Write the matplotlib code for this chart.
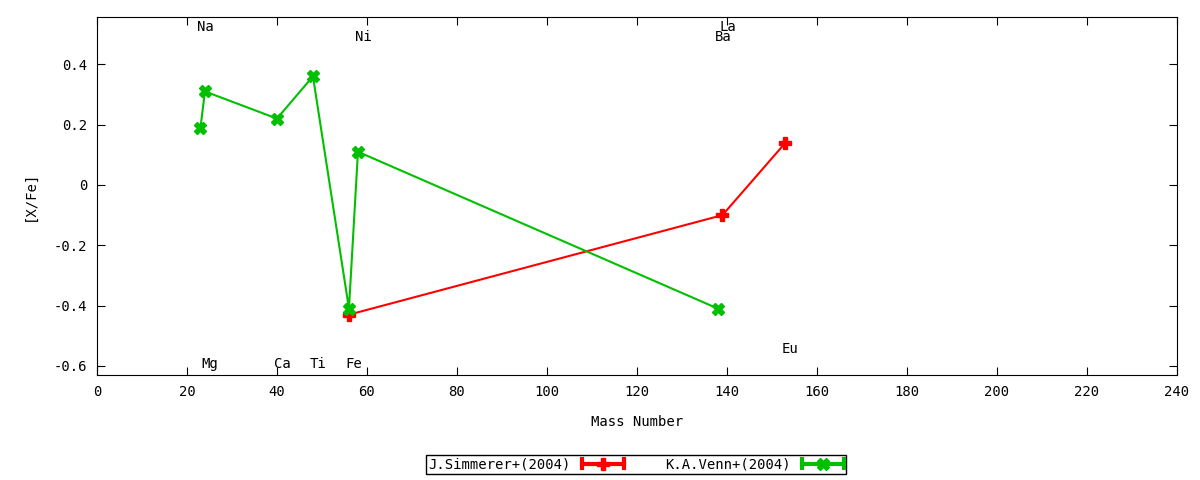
import numpy as np
import matplotlib
matplotlib.use("Agg")
import matplotlib.pyplot as plt
from matplotlib.lines import Line2D
from matplotlib.legend_handler import HandlerBase

# data
simmerer_mass = [56, 139, 153]
simmerer_xfe = [-0.43, -0.10, 0.14]

venn_mass = [23, 24, 40, 48, 56, 58, 138]
venn_xfe = [0.19, 0.31, 0.22, 0.36, -0.41, 0.11, -0.41]

elem_names = ["Na", "Mg", "Ca", "Ti", "Fe", "Ni", "Ba", "La", "Eu"]
elem_mass = [23, 24, 40, 48, 56, 58, 138, 139, 153]
elem_ypos = [0.525, -0.595, -0.595, -0.595, -0.595, 0.49, 0.49, 0.525, -0.545]

x_ticks = np.arange(0, 241, 20)
y_ticks = [-0.6, -0.4, -0.2, 0, 0.2, 0.4]

plt.rcParams['font.family'] = ['DejaVu Sans Mono']
plt.rcParams['font.size'] = 10


class HandlerCapLine(HandlerBase):  # gnuplot-like legend sample: line with caps + point
    def create_artists(self, legend, orig_handle, xdescent, ydescent,
                       width, height, fontsize, trans):
        c = orig_handle.get_color()
        y = height / 2 - ydescent
        x0, x1 = -xdescent, -xdescent + width
        h = height * 0.45
        arts = [Line2D([x0, x1], [y, y], color=c, lw=3),
                Line2D([x0, x0], [y - h, y + h], color=c, lw=3),
                Line2D([x1, x1], [y - h, y + h], color=c, lw=3),
                Line2D([(x0 + x1) / 2], [y], color=c, marker=orig_handle.get_marker(),
                       markersize=orig_handle.get_markersize(), lw=0)]
        for a in arts:
            a.set_transform(trans)
        return arts


fig = plt.figure(figsize=(12, 4.8), dpi=100)
ax = fig.add_axes([0.0808, 0.21875, 0.9, 0.746])

l1, = ax.plot(simmerer_mass, simmerer_xfe, color='#ff0000', lw=1.5,
              marker='P', markersize=8, label='J.Simmerer+(2004)')
l2, = ax.plot(venn_mass, venn_xfe, color='#00c000', lw=1.5,
              marker='X', markersize=8, label='K.A.Venn+(2004)')

for name, m, yy in zip(elem_names, elem_mass, elem_ypos):
    ax.text(m + 1.1, yy, name, ha='center', va='center')

ax.set_xlim(0, 240)
ax.set_ylim(-0.63, 0.557)
ax.set_xticks(x_ticks)
ax.set_yticks(y_ticks)
ax.set_yticklabels(['%g' % v for v in y_ticks])
ax.tick_params(direction='in', top=True, right=True, length=6, pad=7)
ax.set_xlabel('Mass Number', labelpad=12)
ax.set_ylabel('[X/Fe]', labelpad=12)

leg = fig.legend(handles=[l1, l2], loc='center', bbox_to_anchor=(0.53, 0.0325),
                 ncol=2, markerfirst=False, fancybox=False, framealpha=1,
                 edgecolor='black', handlelength=3.0, columnspacing=3.0,
                 borderpad=0.2, handler_map={Line2D: HandlerCapLine()})
leg.get_frame().set_linewidth(1)

fig.savefig('out.png')
